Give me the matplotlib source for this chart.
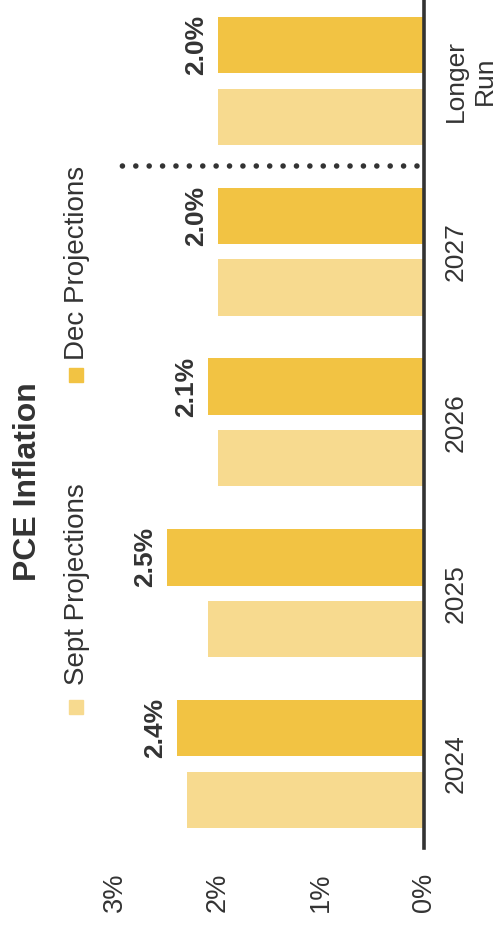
import matplotlib
matplotlib.use("Agg")
import matplotlib.pyplot as plt
from matplotlib.patches import Rectangle
import numpy as np

plt.rcParams['font.family'] = ['Liberation Sans', 'DejaVu Sans']

# Data
categories = ["2024", "2025", "2026", "2027", "Longer\nRun"]
sept_projections = [2.3, 2.1, 2.0, 2.0, 2.0]
dec_projections = [2.4, 2.5, 2.1, 2.0, 2.0]
value_ticks = [0, 1, 2, 3]
value_tick_labels = ["0%", "1%", "2%", "3%"]
series_names = ["Sept Projections", "Dec Projections"]

SEPT_COLOR = "#F7DA8F"
DEC_COLOR = "#F2C343"
TEXT_COLOR = "#333333"

W, H = 501, 926
fig = plt.figure(figsize=(W / 100, H / 100), dpi=100)

# Chart is laid out sideways: categories run bottom-to-top, values right-to-left
ax = fig.add_axes([115 / W, 1 - 848 / H, (424 - 115) / W, 848 / H])

pos = np.arange(len(categories))
bar_h = 0.33
off = 0.21
ax.barh(pos - off, sept_projections, height=bar_h, color=SEPT_COLOR, zorder=2)
ax.barh(pos + off, dec_projections, height=bar_h, color=DEC_COLOR, zorder=2)

ax.set_xlim(3.0, 0)
ax.set_ylim(-0.492, 4.474)

# value labels on the Dec bars
for p, v in zip(pos, dec_projections):
    ax.annotate(f"{v:.1f}%", xy=(v, p + off), xytext=(-7, 0),
                textcoords="offset points", rotation=90,
                ha="right", va="center", fontsize=19, fontweight="bold",
                color=TEXT_COLOR)

# dotted separator between projections and the longer run
ax.plot([0.07, 2.95], [3.5, 3.5], color=TEXT_COLOR, linewidth=4.0,
        linestyle=(0, (0.01, 2.4)), dash_capstyle="round", zorder=3)

# axes styling
for side in ["left", "top", "bottom"]:
    ax.spines[side].set_visible(False)
ax.spines["right"].set_color(TEXT_COLOR)
ax.spines["right"].set_linewidth(2.6)
ax.spines["right"].set_zorder(4)

ax.yaxis.tick_right()
ax.set_yticks(pos)
ax.set_yticklabels(categories, rotation=90, ha="left", va="center",
                   multialignment="center", fontsize=19, color=TEXT_COLOR,
                   linespacing=1.3)
ax.tick_params(axis="y", length=0, pad=14)

ax.set_xticks(value_ticks)
ax.set_xticklabels(value_tick_labels, rotation=90, ha="center", va="top",
                   fontsize=19.5, color=TEXT_COLOR)
ax.tick_params(axis="x", length=0, pad=18)

# title
fig.text(28 / W, 1 - 482 / H, "PCE Inflation", rotation=90, ha="center",
         va="center", fontsize=23, fontweight="bold", color=TEXT_COLOR)

# legend drawn sideways
legend_items = [
    (series_names[0], SEPT_COLOR, 700, 685),
    (series_names[1], DEC_COLOR, 368, 360),
]
for name, color, sq_top, txt_bottom in legend_items:
    fig.patches.append(Rectangle((69 / W, 1 - (sq_top + 14) / H), 14 / W, 14 / H,
                                 transform=fig.transFigure, color=color))
    fig.text(77 / W, 1 - txt_bottom / H, name, rotation=90, ha="center",
             va="bottom", fontsize=20, color=TEXT_COLOR)

fig.savefig("out.png", dpi=100)
